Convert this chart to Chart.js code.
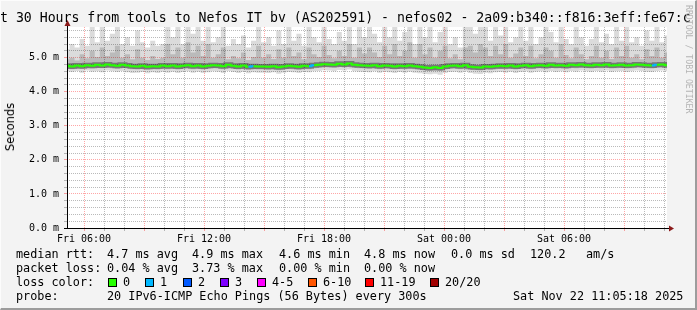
<!DOCTYPE html>
<html>
<head>
<meta charset="utf-8">
<script src="https://cdn.jsdelivr.net/npm/chart.js@4.4.1/dist/chart.umd.min.js"></script>
<style>
body { margin: 0; }
#wrap { position: relative; width: 697px; height: 310px; background: #f3f3f3; overflow: hidden;
  font-family: "DejaVu Sans Mono", monospace; color: #000; }
#wrap:after { content: ''; position: absolute; left: 0; top: 0; right: 0; bottom: 0; box-sizing: border-box;
  border-right: 2px solid #9c9c9c; border-bottom: 2px solid #9c9c9c; border-top: 1px solid #fcfcfc; border-left: 1px solid #fcfcfc; pointer-events: none; }
canvas { position: absolute; left: 0; top: 0; }
.t { position: absolute; white-space: pre; font-size: 11.8px; line-height: 14px; }
.title { position: absolute; left: 0; top: 10px; white-space: pre; font-size: 13.2px; line-height: 16px; }
.ylab { position: absolute; left: 10px; top: 127px; font-family: "DejaVu Sans", sans-serif; font-size: 11.5px;
  transform: translate(-50%, -50%) rotate(-90deg); white-space: pre; }
.wm { position: absolute; left: 684px; top: 5px; writing-mode: vertical-rl; font-size: 8.2px; color: #b4b4b4; white-space: pre; }
.sw { position: absolute; width: 7px; height: 7px; border: 1px solid #000; top: 278px; }
</style>
</head>
<body>
<div id="wrap">
  <canvas id="myChart" width="697" height="250"></canvas>
  <div class="title">t 30 Hours from tools to Nefos IT bv (AS202591) - nefos02 - 2a09:b340::f816:3eff:fe67:c</div>
  <div class="wm">RRDTOOL / TOBI OETIKER</div>
  <div class="ylab">Seconds</div>

  <span class="t" style="left:16px;top:247px">median rtt:</span>
  <span class="t" style="left:107px;top:247px">4.7 ms avg</span>
  <span class="t" style="left:192px;top:247px">4.9 ms max</span>
  <span class="t" style="left:279px;top:247px">4.6 ms min</span>
  <span class="t" style="left:364px;top:247px">4.8 ms now</span>
  <span class="t" style="left:451px;top:247px">0.0 ms sd</span>
  <span class="t" style="left:530px;top:247px">120.2</span>
  <span class="t" style="left:586px;top:247px">am/s</span>

  <span class="t" style="left:16px;top:261px">packet loss:</span>
  <span class="t" style="left:107px;top:261px">0.04 % avg</span>
  <span class="t" style="left:192px;top:261px">3.73 % max</span>
  <span class="t" style="left:279px;top:261px">0.00 % min</span>
  <span class="t" style="left:364px;top:261px">0.00 % now</span>

  <span class="t" style="left:16px;top:275px">loss color:</span>
  <div id="lossLegend"></div>

  <span class="t" style="left:16px;top:289px">probe:</span>
  <span class="t" style="left:107px;top:289px">20 IPv6-ICMP Echo Pings (56 Bytes) every 300s</span>
  <span class="t" style="left:513px;top:289px">Sat Nov 22 11:05:18 2025</span>
</div>
<script>
// time axis in hours since Fri 00:00
const sampleStart = 5.15;
const sampleHours = 30;
const dayNames = ['Fri', 'Sat'];

// median rtt per sample (ms)
const median = [
  4.76,4.74,4.77,4.75,4.78,4.76,4.79,4.77,4.80,4.78,
  4.76,4.79,4.77,4.75,4.74,4.76,4.73,4.75,4.74,4.77,
  4.75,4.77,4.74,4.76,4.78,4.75,4.77,4.74,4.76,4.78,
  4.77,4.75,4.79,4.76,4.74,4.77,4.73,4.75,4.74,4.74,
  4.73,4.75,4.72,4.74,4.76,4.75,4.73,4.76,4.75,4.78,
  4.79,4.81,4.80,4.79,4.82,4.80,4.83,4.79,4.78,4.77,
  4.76,4.78,4.75,4.77,4.76,4.74,4.76,4.75,4.77,4.75,
  4.73,4.71,4.70,4.72,4.70,4.74,4.76,4.77,4.75,4.78,
  4.73,4.72,4.71,4.74,4.73,4.75,4.76,4.75,4.77,4.74,
  4.76,4.78,4.75,4.77,4.78,4.76,4.79,4.77,4.78,4.76,
  4.79,4.78,4.80,4.78,4.77,4.79,4.78,4.80,4.77,4.78,
  4.79,4.77,4.78,4.80,4.79,4.78,4.77,4.79,4.80,4.78
];
// slowest ping per sample (ms)
const pingMax = [
  5.25,5.40,5.30,5.55,5.35,5.90,5.45,5.90,5.50,5.70,
  5.90,5.40,5.60,5.35,5.80,5.45,5.30,5.50,5.35,5.40,
  5.90,5.60,5.90,5.40,5.90,5.70,5.90,5.50,5.90,5.45,
  5.60,5.90,5.35,5.55,5.40,5.65,5.30,5.50,5.90,5.45,
  5.60,5.35,5.80,5.40,5.90,5.50,5.70,5.35,5.90,5.60,
  5.45,5.90,5.55,5.40,5.75,5.50,5.90,5.40,5.90,5.60,
  5.90,5.70,5.45,5.90,5.60,5.90,5.50,5.75,5.90,5.40,
  5.90,5.60,5.90,5.45,5.75,5.90,5.40,5.60,5.30,5.90,
  5.90,5.70,5.90,5.90,5.50,5.90,5.65,5.90,5.45,5.60,
  5.90,5.50,5.90,5.40,5.60,5.90,5.75,5.45,5.90,5.55,
  5.40,5.90,5.60,5.35,5.55,5.90,5.45,5.70,5.40,5.90,
  5.50,5.90,5.45,5.60,5.35,5.80,5.50,5.90,5.45,5.65
];
// upper inner ping per sample (ms)
const pingHigh = [
  4.95,5.00,4.92,5.10,4.98,5.20,5.02,5.30,5.05,5.15,
  5.35,5.00,5.10,4.95,5.25,5.00,4.93,5.05,4.96,5.00,
  5.40,5.10,5.30,5.00,5.45,5.15,5.35,5.05,5.40,5.00,
  5.10,5.30,4.95,5.05,4.98,5.15,4.93,5.02,5.35,5.00,
  5.10,4.96,5.25,5.00,5.30,5.05,5.15,4.95,5.30,5.10,
  5.02,5.35,5.08,4.98,5.20,5.05,5.40,5.00,5.30,5.12,
  5.30,5.15,5.02,5.35,5.10,5.40,5.05,5.20,5.45,5.00,
  5.40,5.10,5.30,5.00,5.20,5.35,4.98,5.10,4.95,5.30,
  5.35,5.15,5.40,5.30,5.05,5.35,5.10,5.40,5.00,5.12,
  5.30,5.05,5.35,4.98,5.10,5.30,5.20,5.00,5.40,5.08,
  4.98,5.30,5.10,4.95,5.05,5.35,5.00,5.20,4.96,5.30,
  5.05,5.35,5.00,5.10,4.95,5.25,5.05,5.30,5.00,5.15
];
// lower inner ping per sample (ms)
const pingLow = [
  4.68,4.66,4.69,4.67,4.70,4.68,4.70,4.69,4.71,4.69,
  4.67,4.70,4.68,4.66,4.65,4.67,4.64,4.66,4.65,4.68,
  4.66,4.68,4.65,4.67,4.69,4.66,4.68,4.65,4.67,4.69,
  4.68,4.66,4.70,4.67,4.65,4.68,4.64,4.66,4.65,4.65,
  4.64,4.66,4.63,4.65,4.67,4.66,4.64,4.67,4.66,4.69,
  4.70,4.72,4.71,4.70,4.73,4.71,4.74,4.70,4.69,4.68,
  4.67,4.69,4.66,4.68,4.67,4.65,4.67,4.66,4.68,4.66,
  4.64,4.62,4.61,4.63,4.61,4.65,4.67,4.68,4.66,4.69,
  4.64,4.63,4.62,4.65,4.64,4.66,4.67,4.66,4.68,4.65,
  4.67,4.69,4.66,4.68,4.69,4.67,4.70,4.68,4.69,4.67,
  4.70,4.69,4.71,4.69,4.68,4.70,4.69,4.71,4.68,4.69,
  4.70,4.68,4.69,4.71,4.70,4.69,4.68,4.70,4.71,4.69
];
// fastest ping per sample (ms)
const pingMin = [
  4.60,4.58,4.61,4.56,4.62,4.59,4.60,4.57,4.62,4.60,
  4.58,4.61,4.57,4.55,4.56,4.58,4.54,4.57,4.55,4.59,
  4.56,4.59,4.55,4.58,4.60,4.56,4.59,4.55,4.57,4.60,
  4.59,4.55,4.61,4.58,4.55,4.59,4.54,4.57,4.56,4.56,
  4.55,4.57,4.53,4.56,4.58,4.57,4.55,4.58,4.57,4.60,
  4.61,4.63,4.62,4.60,4.64,4.62,4.65,4.60,4.59,4.58,
  4.57,4.60,4.56,4.59,4.57,4.55,4.58,4.56,4.59,4.56,
  4.54,4.52,4.51,4.53,4.50,4.55,4.58,4.59,4.56,4.60,
  4.55,4.53,4.52,4.56,4.54,4.57,4.58,4.56,4.59,4.55,
  4.58,4.60,4.56,4.59,4.60,4.57,4.61,4.58,4.60,4.57,
  4.61,4.59,4.62,4.60,4.58,4.61,4.59,4.62,4.58,4.60,
  4.61,4.58,4.60,4.62,4.61,4.59,4.58,4.61,4.62,4.60
];
// lost pings (of 20) per sample
const lossCount = [
  0,0,0,0,0,0,0,0,0,0,
  0,0,0,0,0,0,0,0,0,0,
  0,0,0,0,0,0,0,0,0,0,
  0,0,0,0,0,0,1,0,0,0,
  0,0,0,0,0,0,0,0,1,0,
  0,0,0,0,0,0,0,0,0,0,
  0,0,0,0,0,0,0,0,0,0,
  0,0,0,0,0,0,0,0,0,0,
  0,0,0,0,0,0,0,0,0,0,
  0,0,0,0,0,0,0,0,0,0,
  0,0,0,0,0,0,0,0,0,0,
  0,0,0,0,0,0,1,0,0,0
];
const lossLabels = ['0', '1', '2', '3', '4-5', '6-10', '11-19', '20/20'];
const lossColors = ['#26ff00', '#00b8ff', '#0059ff', '#7e00ff', '#ff00ff', '#ff5500', '#ff0000', '#a10000'];
const lossLegendX = [108, 145, 183, 220, 257, 308, 365, 430];

function lossColor(n) {
  if (n <= 3) return lossColors[n];
  if (n <= 5) return lossColors[4];
  if (n <= 10) return lossColors[5];
  if (n <= 19) return lossColors[6];
  return lossColors[7];
}

// loss colour legend
const leg = document.getElementById('lossLegend');
lossLabels.forEach((lab, i) => {
  const box = document.createElement('div');
  box.className = 'sw';
  box.style.left = lossLegendX[i] + 'px';
  box.style.background = lossColors[i];
  leg.appendChild(box);
  const t = document.createElement('span');
  t.className = 't';
  t.style.left = (lossLegendX[i] + 15) + 'px';
  t.style.top = '275px';
  t.textContent = lab;
  leg.appendChild(t);
});

const times = median.map((_, i) => sampleStart + i * sampleHours / (median.length - 1));
const pts = arr => arr.map((v, i) => ({ x: times[i], y: v }));

const RED = 'rgba(255,0,0,0.35)';
const GRAY = 'rgba(130,130,130,0.55)';
const isInt = v => Math.abs(v - Math.round(v)) < 1e-6;

const area = {
  id: 'area',
  beforeDraw(chart) {
    const a = chart.chartArea, ctx = chart.ctx;
    ctx.save();
    ctx.fillStyle = '#fff';
    ctx.fillRect(a.left, a.top, a.right - a.left, a.bottom - a.top);
    ctx.restore();
  },
  afterDraw(chart) {
    const a = chart.chartArea, ctx = chart.ctx;
    ctx.save();
    ctx.strokeStyle = '#000';
    ctx.lineWidth = 1;
    ctx.beginPath();
    ctx.moveTo(a.left + 0.5, a.bottom + 0.5);
    ctx.lineTo(a.left + 0.5, a.top - 3);
    ctx.moveTo(a.left - 3, a.bottom + 0.5);
    ctx.lineTo(a.right + 3, a.bottom + 0.5);
    ctx.stroke();
    ctx.fillStyle = '#8b1a1a';
    ctx.beginPath();
    ctx.moveTo(a.left + 0.5, a.top - 7);
    ctx.lineTo(a.left - 2.5, a.top - 1);
    ctx.lineTo(a.left + 3.5, a.top - 1);
    ctx.fill();
    ctx.beginPath();
    ctx.moveTo(a.right + 7, a.bottom + 0.5);
    ctx.lineTo(a.right + 2, a.bottom - 2.5);
    ctx.lineTo(a.right + 2, a.bottom + 3.5);
    ctx.fill();
    ctx.restore();
  }
};

const noLine = { borderColor: 'rgba(0,0,0,0)', borderWidth: 0, pointRadius: 0, stepped: 'middle' };

const ctx = document.getElementById('myChart').getContext('2d');
const myChart = new Chart(ctx, {
  type: 'line',
  data: {
    datasets: [
      { ...noLine, order: 4, data: pts(pingMax), fill: '+1', backgroundColor: 'rgba(0,0,0,0.14)' },
      { ...noLine, order: 5, data: pts(pingMin), fill: false },
      { ...noLine, order: 2, data: pts(pingHigh), fill: '+1', backgroundColor: 'rgba(0,0,0,0.15)' },
      { ...noLine, order: 3, data: pts(pingLow), fill: false },
      { order: 1, data: pts(median), borderColor: 'rgba(20,20,20,0.4)', borderWidth: 5, pointRadius: 0, stepped: 'middle', fill: false },
      { order: 0, data: pts(median), borderColor: lossColors[0], borderWidth: 2, pointRadius: 0, stepped: 'middle', fill: false,
        segment: { borderColor: c => lossColor(lossCount[c.p0DataIndex]) } }
    ]
  },
  options: {
    responsive: false,
    animation: false,
    layout: { padding: { left: 0, top: 27, right: 30, bottom: 0 } },
    plugins: { legend: { display: false }, tooltip: { enabled: false } },
    scales: {
      x: {
        type: 'linear',
        min: sampleStart,
        max: sampleStart + sampleHours,
        afterBuildTicks: s => {
          const t = [];
          for (let h = Math.ceil(s.min); h <= s.max; h++) t.push({ value: h });
          s.ticks = t;
        },
        afterFit: s => { s.height = 22; },
        ticks: {
          autoSkip: false, maxRotation: 0, padding: 2, color: '#000',
          font: { family: 'DejaVu Sans Mono', size: 10 },
          callback: v => v % 6 === 0 ? dayNames[Math.floor(v / 24)] + ' ' + String(v % 24).padStart(2, '0') + ':00' : ''
        },
        grid: { color: c => (c.tick && c.tick.value % 3 === 0) ? RED : GRAY, tickLength: 3 },
        border: { display: false, dash: [1, 1] }
      },
      y: {
        min: 0,
        max: 5.9,
        afterBuildTicks: s => {
          const t = [];
          for (let i = 0; i <= 29; i++) t.push({ value: i / 5 });
          s.ticks = t;
        },
        afterFit: s => { s.width = 67; },
        ticks: {
          autoSkip: false, padding: 5, color: '#000',
          font: { family: 'DejaVu Sans Mono', size: 10 },
          callback: v => isInt(v) ? v.toFixed(1) + ' m' : ''
        },
        grid: { color: c => (c.tick && isInt(c.tick.value) && c.tick.value > 0) ? RED : GRAY, tickLength: 3 },
        border: { display: false, dash: [1, 1] }
      }
    }
  },
  plugins: [area]
});
</script>
</body>
</html>
